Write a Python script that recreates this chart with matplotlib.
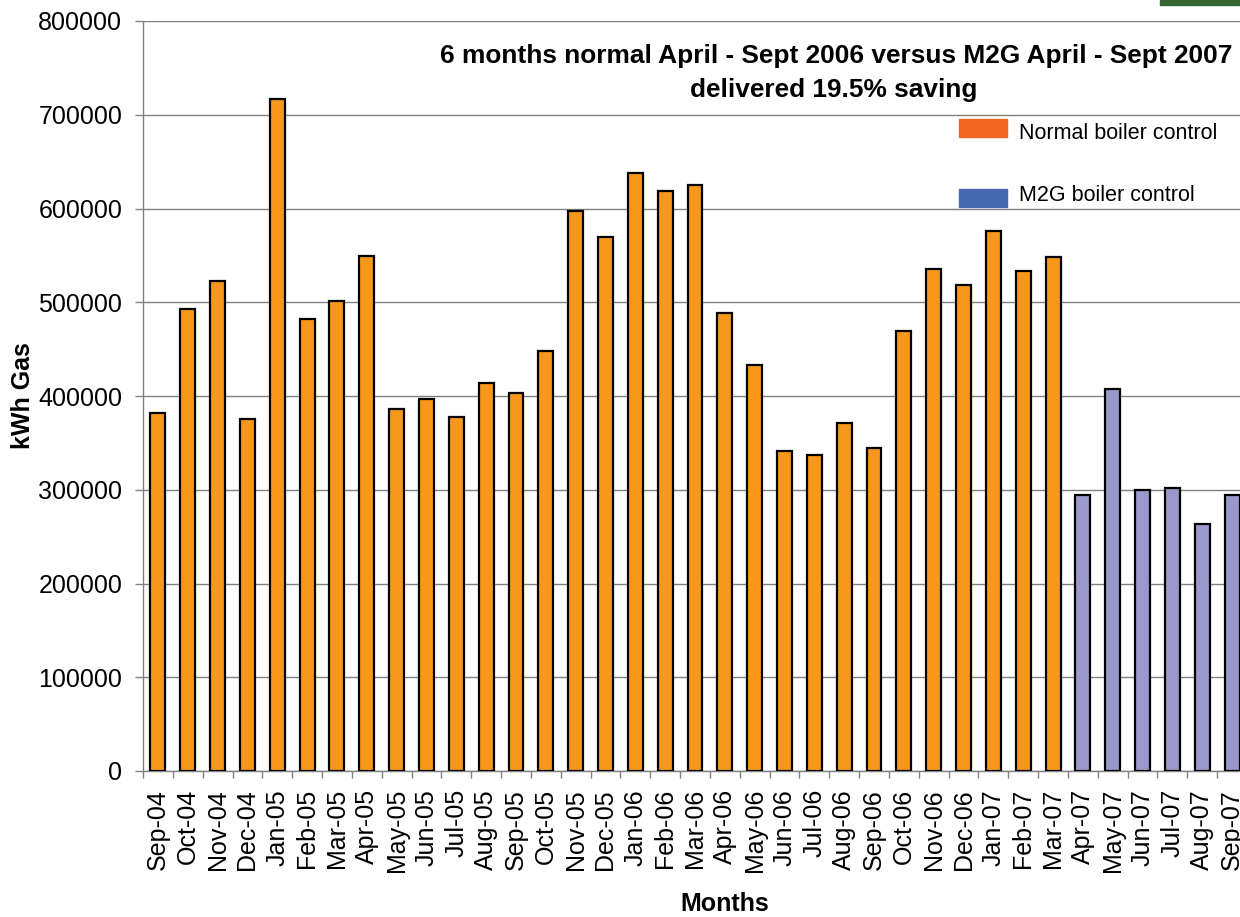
import matplotlib
matplotlib.use("Agg")
import matplotlib.pyplot as plt
from matplotlib.patches import Rectangle

plt.rcParams['font.family'] = ['Liberation Sans', 'DejaVu Sans']

# Monthly gas use (kWh)
normal_months = ["Sep-04", "Oct-04", "Nov-04", "Dec-04", "Jan-05", "Feb-05", "Mar-05",
                 "Apr-05", "May-05", "Jun-05", "Jul-05", "Aug-05", "Sep-05", "Oct-05",
                 "Nov-05", "Dec-05", "Jan-06", "Feb-06", "Mar-06", "Apr-06", "May-06",
                 "Jun-06", "Jul-06", "Aug-06", "Sep-06", "Oct-06", "Nov-06", "Dec-06",
                 "Jan-07", "Feb-07", "Mar-07"]
normal_kwh = [382000, 493000, 523000, 375000, 717000, 482000, 501000,
              549000, 386000, 397000, 378000, 414000, 403000, 448000,
              597000, 570000, 638000, 619000, 625000, 489000, 433000,
              341000, 337000, 371000, 345000, 469000, 535000, 518000,
              576000, 533000, 548000]

m2g_months = ["Apr-07", "May-07", "Jun-07", "Jul-07", "Aug-07", "Sep-07"]
m2g_kwh = [294000, 407000, 300000, 302000, 264000, 294000]

title_lines = ["6 months normal April - Sept 2006 versus M2G April - Sept 2007",
               "delivered 19.5% saving"]
legend_labels = ["Normal boiler control", "M2G boiler control"]

W, H = 1240, 917
fig = plt.figure(figsize=(W / 100, H / 100), dpi=100)


def fx(px):
    return px / W


def fy(py):
    return 1 - py / H


# axes runs past the right edge like the original screenshot
ax = fig.add_axes([fx(143), fy(771), 1104 / W, 750 / H])

months = normal_months + m2g_months
x_normal = list(range(len(normal_months)))
x_m2g = list(range(len(normal_months), len(months)))

ax.bar(x_normal, normal_kwh, width=0.5, color="#F7981D", edgecolor="black",
       linewidth=1.6, zorder=3)
ax.bar(x_m2g, m2g_kwh, width=0.5, color="#9999CC", edgecolor="black",
       linewidth=1.6, zorder=3)

ax.set_xlim(-0.5, len(months) - 0.5)
ax.set_ylim(0, 800000)
ax.set_yticks(range(0, 800001, 100000))
ax.yaxis.grid(True, color="#808080", linewidth=1.0, zorder=0)
ax.set_axisbelow(True)

ax.set_xticks(range(len(months)))
ax.set_xticklabels(months, rotation=90)
ax.set_xticks([i - 0.5 for i in range(len(months) + 1)], minor=True)
ax.tick_params(axis="x", which="major", length=0, pad=13, labelsize=18)
ax.tick_params(axis="x", which="minor", length=5, width=1, color="#808080", direction="out")
ax.tick_params(axis="y", length=6, width=1, color="#808080", pad=9, labelsize=18)

for side in ["top", "right"]:
    ax.spines[side].set_visible(False)
for side in ["left", "bottom"]:
    ax.spines[side].set_color("#808080")
    ax.spines[side].set_linewidth(1.0)

ax.set_ylabel("kWh Gas", fontsize=18, fontweight="bold", va="baseline")
ax.yaxis.set_label_coords(fx(30), fy(396), transform=fig.transFigure)
ax.set_xlabel("Months", fontsize=18, fontweight="bold", va="baseline")
ax.xaxis.set_label_coords(fx(725), fy(911), transform=fig.transFigure)

# title inside the plot area
fig.text(fx(836), fy(63), title_lines[0], fontsize=18.9, fontweight="bold",
         ha="center", va="baseline")
fig.text(fx(834), fy(97), title_lines[1], fontsize=18.9, fontweight="bold",
         ha="center", va="baseline")

# legend boxes
fig.add_artist(Rectangle((fx(959), fy(137)), 48 / W, 18 / H, color="#F26522",
                         transform=fig.transFigure))
fig.add_artist(Rectangle((fx(959), fy(207)), 48 / W, 18 / H, color="#4668B0",
                         transform=fig.transFigure))
fig.text(fx(1019), fy(139), legend_labels[0], fontsize=15.5, va="baseline")
fig.text(fx(1019), fy(201), legend_labels[1], fontsize=15.5, va="baseline")

# green strip in the top right corner
fig.add_artist(Rectangle((fx(1160), fy(5)), 80 / W, 5 / H, color="#336633",
                         transform=fig.transFigure))

plt.savefig("out.png", dpi=100)
